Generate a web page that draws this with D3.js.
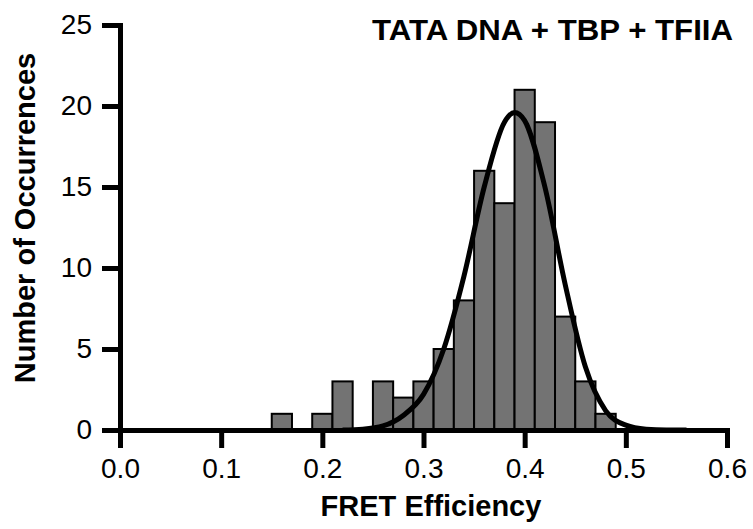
<!DOCTYPE html>
<html>
<head>
<meta charset="utf-8">
<script src="https://cdn.jsdelivr.net/npm/d3@7"></script>
<style>
  html, body { margin: 0; padding: 0; background: #fff; }
  text { font-family: "Liberation Sans", Arial, Helvetica, sans-serif; fill: #000; }
</style>
</head>
<body>
<div id="chart"></div>
<script>
// histogram bins (left edge of each 0.02-wide bin) and counts
const binStarts = [0.15, 0.19, 0.21, 0.25, 0.27, 0.29, 0.31, 0.33, 0.35, 0.37, 0.39, 0.41, 0.43, 0.45, 0.47];
const counts    = [1,    1,    3,    3,    2,    3,    5,    8,    16,   14,   21,   19,   7,    3,    1];
const binWidth = 0.02;

// fitted curve
const fitX = [0.22, 0.24, 0.26, 0.28, 0.30, 0.32, 0.34, 0.36, 0.38, 0.39, 0.40, 0.42, 0.44, 0.46, 0.48, 0.50, 0.52, 0.54, 0.56];
const fitY = [0.0,  0.05, 0.25, 0.9,  2.2,  5.0,  9.5,  15.0, 19.0, 19.6, 19.1, 15.0, 9.0,  3.9,  1.2,  0.3,  0.05, 0.0,  0.0];

const xTicks = [0.0, 0.1, 0.2, 0.3, 0.4, 0.5, 0.6];
const yTicks = [0, 5, 10, 15, 20, 25];

const width = 753, height = 529;
const plotLeft = 120, plotRight = 727, plotTop = 25, plotBottom = 430;

const svg = d3.select("#chart").append("svg")
    .attr("width", width)
    .attr("height", height);

const x = d3.scaleLinear().domain([0, 0.6]).range([plotLeft, plotRight]);
const y = d3.scaleLinear().domain([0, 25]).range([plotBottom, plotTop]);

// bars
svg.append("g")
    .selectAll("rect")
    .data(binStarts)
    .join("rect")
    .attr("x", d => x(d))
    .attr("y", (d, i) => y(counts[i]))
    .attr("width", d => x(d + binWidth) - x(d))
    .attr("height", (d, i) => y(0) - y(counts[i]))
    .attr("fill", "#737373")
    .attr("stroke", "#000")
    .attr("stroke-width", 2);

// fit curve
const line = d3.line()
    .x((d, i) => x(fitX[i]))
    .y(d => y(d))
    .curve(d3.curveMonotoneX);

svg.append("path")
    .datum(fitY)
    .attr("d", line)
    .attr("fill", "none")
    .attr("stroke", "#000")
    .attr("stroke-width", 5)
    .attr("stroke-linejoin", "round");

// axes
const xAxis = svg.append("g")
    .attr("transform", `translate(0,${plotBottom})`)
    .call(d3.axisBottom(x).tickValues(xTicks).tickFormat(d3.format(".1f"))
        .tickSize(18).tickSizeOuter(0).tickPadding(10));

const yAxis = svg.append("g")
    .attr("transform", `translate(${plotLeft},0)`)
    .call(d3.axisLeft(y).tickValues(yTicks).tickSize(18).tickSizeOuter(0).tickPadding(10));

[xAxis, yAxis].forEach(g => {
    g.select(".domain").attr("stroke-width", 5).attr("stroke-linecap", "square");
    g.selectAll(".tick line").attr("stroke-width", 5);
    g.selectAll(".tick text")
        .style("font-family", "'Liberation Sans', Arial, sans-serif")
        .style("font-size", "28px")
        .attr("fill", "#000");
});

// titles
svg.append("text")
    .attr("x", 431)
    .attr("y", 516)
    .attr("text-anchor", "middle")
    .style("font-size", "29px")
    .style("font-weight", "bold")
    .text("FRET Efficiency");

svg.append("text")
    .attr("transform", "translate(35,218) rotate(-90)")
    .attr("text-anchor", "middle")
    .style("font-size", "29px")
    .style("font-weight", "bold")
    .text("Number of Occurrences");

svg.append("text")
    .attr("x", 372)
    .attr("y", 40)
    .attr("textLength", 361)
    .attr("lengthAdjust", "spacingAndGlyphs")
    .style("font-size", "29px")
    .style("font-weight", "bold")
    .text("TATA DNA + TBP + TFIIA");
</script>
</body>
</html>
